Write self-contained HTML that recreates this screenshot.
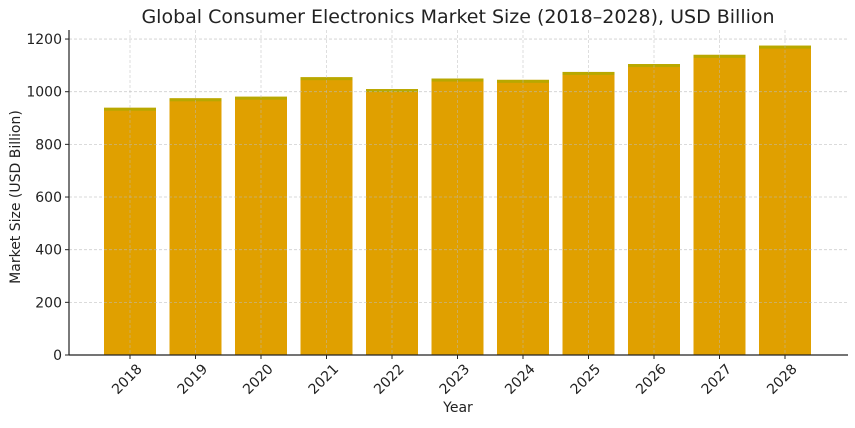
<!DOCTYPE html>
<html><head><meta charset="utf-8"><style>
body{margin:0;background:#fff;}
svg text{font-family:"DejaVu Sans","Liberation Sans",sans-serif;fill:#222;}
</style></head><body>
<svg id="chart" width="855" height="423">
<text x="458" y="23" font-size="19" text-anchor="middle">Global Consumer Electronics Market Size (2018–2028), USD Billion</text>
<text x="458" y="412" font-size="14" text-anchor="middle">Year</text>
<text transform="translate(20,197) rotate(-90)" font-size="14" text-anchor="middle">Market Size (USD Billion)</text>
<g id="bars"></g><g id="grid"></g><g id="ticks"></g>
<line x1="69" y1="30" x2="69" y2="355" stroke="#222" stroke-width="1.2"/>
<line x1="69" y1="355" x2="848" y2="355" stroke="#222" stroke-width="1.2"/>
</svg>
<script>
const years=["2018","2019","2020","2021","2022","2023","2024","2025","2026","2027","2028"];
const sizes=[939,975,981,1055,1010,1050,1045,1075,1105,1140,1175];
const yTicks=[0,200,400,600,800,1000,1200];
const NS="http://www.w3.org/2000/svg";
function y(v){return 355-v*0.2633;}
function x(i){return 130+i*65.5;}
function mk(t,a,p){const e=document.createElementNS(NS,t);for(const k in a)e.setAttribute(k,a[k]);p.appendChild(e);return e;}
const bars=document.getElementById('bars'),grid=document.getElementById('grid'),ticks=document.getElementById('ticks');
years.forEach((yr,i)=>{
 const r=mk('rect',{x:x(i)-26,y:y(sizes[i]),width:52,height:355-y(sizes[i]),fill:'#e0a000'},bars);
 
 
 const t=mk('rect',{x:x(i)-26,y:y(sizes[i]),width:52,height:3,fill:'#b8a800'},bars);
 
 
 const g=mk('line',{x1:x(i),x2:x(i),y1:30,y2:355,stroke:'#bbb','stroke-width':0.8,'stroke-dasharray':'3,2',opacity:0.6},grid);
 
 
 mk('line',{x1:x(i),x2:x(i),y1:355,y2:359,stroke:'#222'},ticks);
 const l=mk('text',{transform:`translate(${x(i)+10},${367}) rotate(-45)`,'font-size':14,'text-anchor':'end','dominant-baseline':'middle'},ticks);
 l.textContent=yr;
 
 
});
yTicks.forEach(v=>{
 if(v>0){const g=mk('line',{x1:69,x2:848,y1:y(v),y2:y(v),stroke:'#bbb','stroke-width':0.8,'stroke-dasharray':'3,2',opacity:0.7},grid);
 
 }
 mk('line',{x1:65,x2:69,y1:y(v),y2:y(v),stroke:'#222'},ticks);
 const l=mk('text',{x:62,y:y(v)+5,'font-size':14,'text-anchor':'end'},ticks);
 l.textContent=v;
 
 
});
</script>
</body></html>
